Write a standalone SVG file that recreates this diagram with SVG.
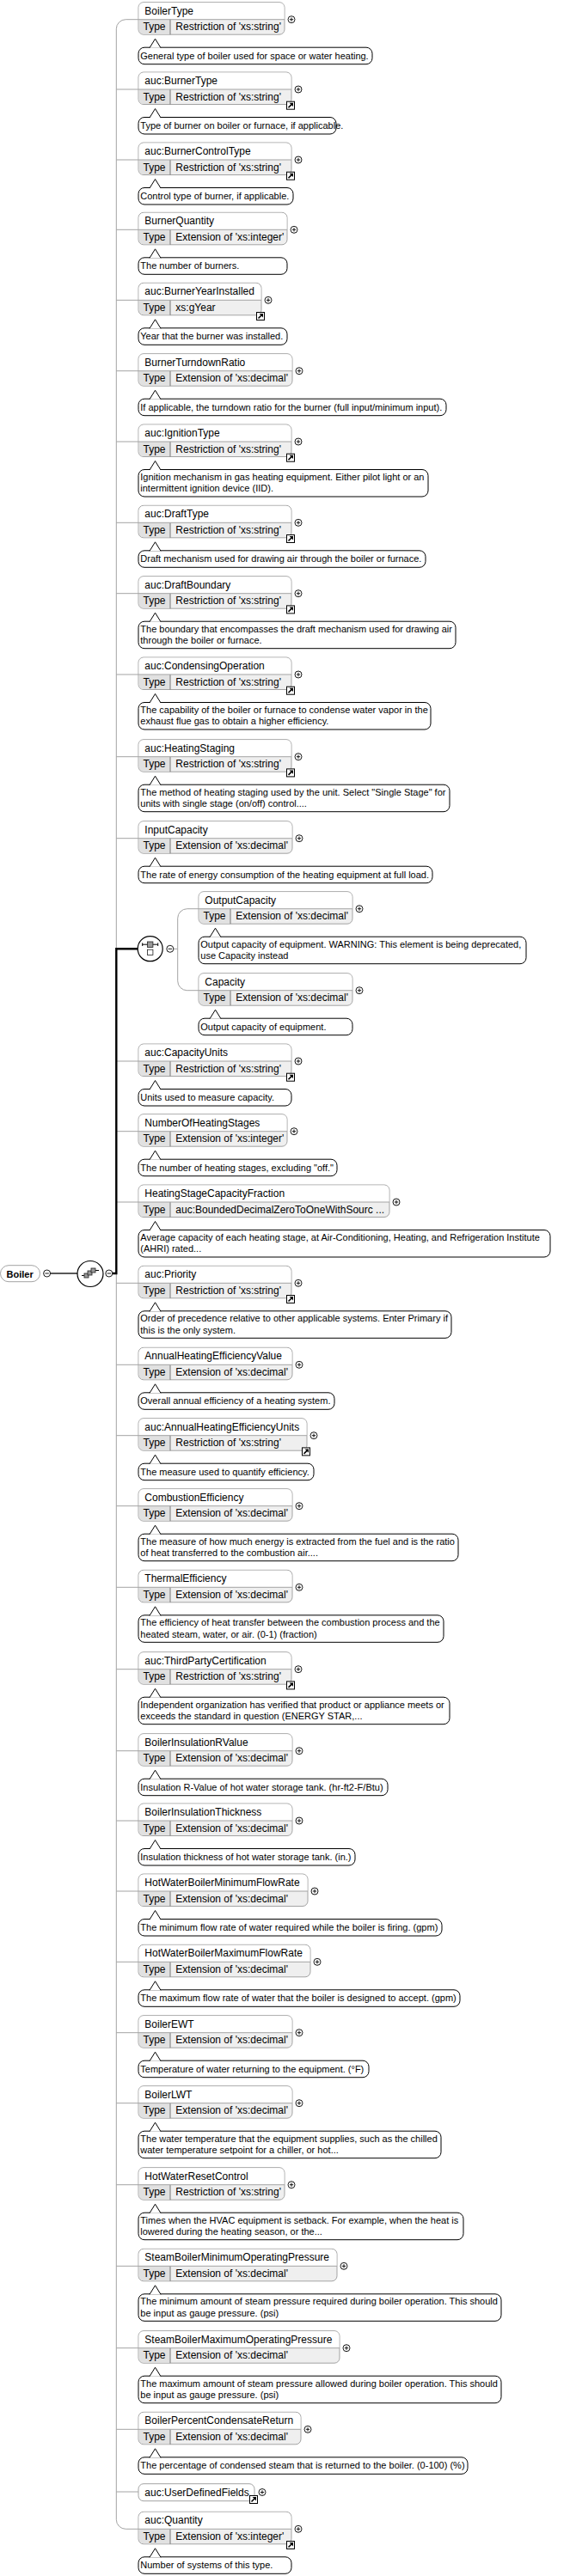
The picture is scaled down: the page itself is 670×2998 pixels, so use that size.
<svg xmlns="http://www.w3.org/2000/svg" width="670" height="2998" viewBox="0 0 670 2998">
<style>
.bx{fill:#efefef;stroke:#a3a3a3;stroke-width:1}
.hb{fill:#fff;stroke:#a3a3a3;stroke-width:1}
.hd{fill:#fff}
.dv{fill:none;stroke:#a3a3a3;stroke-width:1}
.co{fill:#fff;stroke:#000;stroke-width:1}
.hn,.tt{font-family:"Liberation Sans",Arial,sans-serif;font-size:12px;fill:#000}
.dc{font-family:"Liberation Sans",Arial,sans-serif;font-size:11px;fill:#000}
.rt{font-family:"Liberation Sans",Arial,sans-serif;font-size:11px;font-weight:bold;fill:#000}
.gl{fill:none;stroke:#a3a3a3;stroke-width:1}
</style>
<defs>
<g id="tc"><path d="M0.5 0H37V17H6A5.5 5.5 0 0 1 0.5 11.5Z" fill="#e1e1e1"/><path d="M37 0V17.5" stroke="#777" fill="none"/><text class="tt" x="5.5" y="12.5">Type</text></g>
<path id="pt" d="M13 33L19.5 22.5L26 33" fill="#fff" stroke="#000"/>
<g id="pl"><circle r="4" fill="#fff" stroke="#000" stroke-width="0.9"/><path d="M-2.2 0H2.2M0 -2.2V2.2" stroke="#000" stroke-width="0.9"/></g>
<g id="mi"><circle r="4" fill="#fff" stroke="#000" stroke-width="0.9"/><path d="M-2.2 0H2.2" stroke="#000" stroke-width="0.9"/></g>
<g id="lk"><rect x="0.5" y="0.5" width="9" height="9" fill="#fff" stroke="#000"/><path d="M2.5 7.5L6.3 3.7" stroke="#000" stroke-width="1.6"/><path d="M3.6 2H8V6.4Z" fill="#000"/></g>
</defs>

<g id="connectors">
<path class="gl" d="M161 22.7H146.3A11 11 0 0 0 135.3 33.7V2932.3A11 11 0 0 0 146.3 2943.3H161"/>
<path class="gl" d="M135.3 104H161M135.3 186H161M135.3 267.3H161M135.3 349.3H161M135.3 431.7H161M135.3 514H161M135.3 608.3H161M135.3 690.7H161M135.3 785H161M135.3 880.7H161M135.3 975.7H161M135.3 1235H161M135.3 1316.7H161M135.3 1399H161M135.3 1493.3H161M135.3 1588.3H161M135.3 1670.7H161M135.3 1752.7H161M135.3 1847.3H161M135.3 1942.7H161M135.3 2037.7H161M135.3 2119H161M135.3 2201H161M135.3 2283.3H161M135.3 2365.7H161M135.3 2447.7H161M135.3 2542.7H161M135.3 2637.3H161M135.3 2732.7H161M135.3 2827.3H161M135.3 2900H161"/>
<path class="gl" d="M231 1057.7H217.7A11 11 0 0 0 206.7 1068.7V1141.7A11 11 0 0 0 217.7 1152.7H231"/>
<path d="M201.5 1104.3H206.7" stroke="#a3a3a3" fill="none"/>
<path d="M130.7 1482H135.3V1104.2H160.2" stroke="#000" stroke-width="2.4" fill="none"/>
<path d="M58.5 1482H90.3" stroke="#222" stroke-width="1.3" fill="none"/>
<use href="#mi" x="54.6" y="1482"/>
<use href="#mi" x="126.8" y="1482"/>
<use href="#mi" x="197.8" y="1104.3"/>
</g>

<g id="Boiler"><rect class="hb" x="0.5" y="1472.7" width="46" height="19" rx="9.5" stroke="#999"/><text class="rt" x="7.5" y="1486.5">Boiler</text></g>

<g id="sequence" transform="translate(105 1482.5)">
<circle r="15" fill="#fff" stroke="#000" stroke-width="1.2"/>
<path d="M-10 2H-7M6 -4H10" stroke="#000" fill="none"/>
<rect x="-7" y="-0.5" width="5" height="5" fill="#999" stroke="#222" stroke-width="0.8"/>
<rect x="-3" y="-3.5" width="5" height="5" fill="#999" stroke="#222" stroke-width="0.8"/>
<rect x="1" y="-6.5" width="5" height="5" fill="#999" stroke="#222" stroke-width="0.8"/>
</g>

<g id="choice" transform="translate(174.7 1104.2)">
<circle r="14.5" fill="#fff" stroke="#000" stroke-width="1.2"/>
<path d="M-9 -5H9M-9 -6.8V-3.2M9 -6.8V-3.2" stroke="#000" fill="none"/>
<rect x="-3.2" y="-8.2" width="6.4" height="6.4" fill="#9a9a9a" stroke="#222" stroke-width="0.8"/>
<rect x="-3.2" y="1" width="6.4" height="6.4" fill="#fff" stroke="#222" stroke-width="0.8"/>
</g>

<g id="BoilerType" transform="translate(161 22.7)">
<rect class="bx" y="-20" width="170" height="37.5" rx="6"/>
<path class="hd" d="M0.5 0V-14A5.5 5.5 0 0 1 6 -19.5H164A5.5 5.5 0 0 1 169.5 -14V0Z"/>
<use href="#tc"/><path class="dv" d="M0 0H170"/>
<text class="hn" x="7.3" y="-6">BoilerType</text>
<text class="tt" x="43.3" y="12.5">Restriction of 'xs:string'</text>
<use href="#pl" x="178" y="0"/>
<rect class="co" y="32.5" width="272" height="19.5" rx="7"/><use href="#pt"/>
<text class="dc" x="2.3" y="46">General type of boiler used for space or water heating.</text>
</g>

<g id="BurnerType" transform="translate(161 104)">
<rect class="bx" y="-20" width="178" height="37.5" rx="6"/>
<path class="hd" d="M0.5 0V-14A5.5 5.5 0 0 1 6 -19.5H172A5.5 5.5 0 0 1 177.5 -14V0Z"/>
<use href="#tc"/><path class="dv" d="M0 0H178"/>
<text class="hn" x="7.3" y="-6">auc:BurnerType</text>
<text class="tt" x="43.3" y="12.5">Restriction of 'xs:string'</text>
<use href="#lk" x="172" y="13.7"/><use href="#pl" x="186" y="0"/>
<rect class="co" y="32.5" width="230" height="19.5" rx="7"/><use href="#pt"/>
<text class="dc" x="2.3" y="46">Type of burner on boiler or furnace, if applicable.</text>
</g>

<g id="BurnerControlType" transform="translate(161 186)">
<rect class="bx" y="-20" width="178" height="37.5" rx="6"/>
<path class="hd" d="M0.5 0V-14A5.5 5.5 0 0 1 6 -19.5H172A5.5 5.5 0 0 1 177.5 -14V0Z"/>
<use href="#tc"/><path class="dv" d="M0 0H178"/>
<text class="hn" x="7.3" y="-6">auc:BurnerControlType</text>
<text class="tt" x="43.3" y="12.5">Restriction of 'xs:string'</text>
<use href="#lk" x="172" y="13.7"/><use href="#pl" x="186" y="0"/>
<rect class="co" y="32.5" width="180" height="19.5" rx="7"/><use href="#pt"/>
<text class="dc" x="2.3" y="46">Control type of burner, if applicable.</text>
</g>

<g id="BurnerQuantity" transform="translate(161 267.3)">
<rect class="bx" y="-20" width="173" height="37.5" rx="6"/>
<path class="hd" d="M0.5 0V-14A5.5 5.5 0 0 1 6 -19.5H167A5.5 5.5 0 0 1 172.5 -14V0Z"/>
<use href="#tc"/><path class="dv" d="M0 0H173"/>
<text class="hn" x="7.3" y="-6">BurnerQuantity</text>
<text class="tt" x="43.3" y="12.5">Extension of 'xs:integer'</text>
<use href="#pl" x="181" y="0"/>
<rect class="co" y="32.5" width="173" height="19.5" rx="7"/><use href="#pt"/>
<text class="dc" x="2.3" y="46">The number of burners.</text>
</g>

<g id="BurnerYearInstalled" transform="translate(161 349.3)">
<rect class="bx" y="-20" width="143" height="37.5" rx="6"/>
<path class="hd" d="M0.5 0V-14A5.5 5.5 0 0 1 6 -19.5H137A5.5 5.5 0 0 1 142.5 -14V0Z"/>
<use href="#tc"/><path class="dv" d="M0 0H143"/>
<text class="hn" x="7.3" y="-6">auc:BurnerYearInstalled</text>
<text class="tt" x="43.3" y="12.5">xs:gYear</text>
<use href="#lk" x="137" y="13.7"/><use href="#pl" x="151" y="0"/>
<rect class="co" y="32.5" width="173" height="19.5" rx="7"/><use href="#pt"/>
<text class="dc" x="2.3" y="46">Year that the burner was installed.</text>
</g>

<g id="BurnerTurndownRatio" transform="translate(161 431.7)">
<rect class="bx" y="-20" width="179" height="37.5" rx="6"/>
<path class="hd" d="M0.5 0V-14A5.5 5.5 0 0 1 6 -19.5H173A5.5 5.5 0 0 1 178.5 -14V0Z"/>
<use href="#tc"/><path class="dv" d="M0 0H179"/>
<text class="hn" x="7.3" y="-6">BurnerTurndownRatio</text>
<text class="tt" x="43.3" y="12.5">Extension of 'xs:decimal'</text>
<use href="#pl" x="187" y="0"/>
<rect class="co" y="32.5" width="358" height="19.5" rx="7"/><use href="#pt"/>
<text class="dc" x="2.3" y="46">If applicable, the turndown ratio for the burner (full input/minimum input).</text>
</g>

<g id="IgnitionType" transform="translate(161 514)">
<rect class="bx" y="-20" width="178" height="37.5" rx="6"/>
<path class="hd" d="M0.5 0V-14A5.5 5.5 0 0 1 6 -19.5H172A5.5 5.5 0 0 1 177.5 -14V0Z"/>
<use href="#tc"/><path class="dv" d="M0 0H178"/>
<text class="hn" x="7.3" y="-6">auc:IgnitionType</text>
<text class="tt" x="43.3" y="12.5">Restriction of 'xs:string'</text>
<use href="#lk" x="172" y="13.7"/><use href="#pl" x="186" y="0"/>
<rect class="co" y="32.5" width="337" height="31.5" rx="7"/><use href="#pt"/>
<text class="dc" x="2.3" y="45">Ignition mechanism in gas heating equipment. Either pilot light or an</text>
<text class="dc" x="2.3" y="58.3">intermittent ignition device (IID).</text>
</g>

<g id="DraftType" transform="translate(161 608.3)">
<rect class="bx" y="-20" width="178" height="37.5" rx="6"/>
<path class="hd" d="M0.5 0V-14A5.5 5.5 0 0 1 6 -19.5H172A5.5 5.5 0 0 1 177.5 -14V0Z"/>
<use href="#tc"/><path class="dv" d="M0 0H178"/>
<text class="hn" x="7.3" y="-6">auc:DraftType</text>
<text class="tt" x="43.3" y="12.5">Restriction of 'xs:string'</text>
<use href="#lk" x="172" y="13.7"/><use href="#pl" x="186" y="0"/>
<rect class="co" y="32.5" width="334" height="19.5" rx="7"/><use href="#pt"/>
<text class="dc" x="2.3" y="46">Draft mechanism used for drawing air through the boiler or furnace.</text>
</g>

<g id="DraftBoundary" transform="translate(161 690.7)">
<rect class="bx" y="-20" width="178" height="37.5" rx="6"/>
<path class="hd" d="M0.5 0V-14A5.5 5.5 0 0 1 6 -19.5H172A5.5 5.5 0 0 1 177.5 -14V0Z"/>
<use href="#tc"/><path class="dv" d="M0 0H178"/>
<text class="hn" x="7.3" y="-6">auc:DraftBoundary</text>
<text class="tt" x="43.3" y="12.5">Restriction of 'xs:string'</text>
<use href="#lk" x="172" y="13.7"/><use href="#pl" x="186" y="0"/>
<rect class="co" y="32.5" width="369" height="31.5" rx="7"/><use href="#pt"/>
<text class="dc" x="2.3" y="45">The boundary that encompasses the draft mechanism used for drawing air</text>
<text class="dc" x="2.3" y="58.3">through the boiler or furnace.</text>
</g>

<g id="CondensingOperation" transform="translate(161 785)">
<rect class="bx" y="-20" width="178" height="37.5" rx="6"/>
<path class="hd" d="M0.5 0V-14A5.5 5.5 0 0 1 6 -19.5H172A5.5 5.5 0 0 1 177.5 -14V0Z"/>
<use href="#tc"/><path class="dv" d="M0 0H178"/>
<text class="hn" x="7.3" y="-6">auc:CondensingOperation</text>
<text class="tt" x="43.3" y="12.5">Restriction of 'xs:string'</text>
<use href="#lk" x="172" y="13.7"/><use href="#pl" x="186" y="0"/>
<rect class="co" y="32.5" width="340" height="31.5" rx="7"/><use href="#pt"/>
<text class="dc" x="2.3" y="45">The capability of the boiler or furnace to condense water vapor in the</text>
<text class="dc" x="2.3" y="58.3">exhaust flue gas to obtain a higher efficiency.</text>
</g>

<g id="HeatingStaging" transform="translate(161 880.7)">
<rect class="bx" y="-20" width="178" height="37.5" rx="6"/>
<path class="hd" d="M0.5 0V-14A5.5 5.5 0 0 1 6 -19.5H172A5.5 5.5 0 0 1 177.5 -14V0Z"/>
<use href="#tc"/><path class="dv" d="M0 0H178"/>
<text class="hn" x="7.3" y="-6">auc:HeatingStaging</text>
<text class="tt" x="43.3" y="12.5">Restriction of 'xs:string'</text>
<use href="#lk" x="172" y="13.7"/><use href="#pl" x="186" y="0"/>
<rect class="co" y="32.5" width="362" height="31.5" rx="7"/><use href="#pt"/>
<text class="dc" x="2.3" y="45">The method of heating staging used by the unit. Select "Single Stage" for</text>
<text class="dc" x="2.3" y="58.3">units with single stage (on/off) control....</text>
</g>

<g id="InputCapacity" transform="translate(161 975.7)">
<rect class="bx" y="-20" width="179" height="37.5" rx="6"/>
<path class="hd" d="M0.5 0V-14A5.5 5.5 0 0 1 6 -19.5H173A5.5 5.5 0 0 1 178.5 -14V0Z"/>
<use href="#tc"/><path class="dv" d="M0 0H179"/>
<text class="hn" x="7.3" y="-6">InputCapacity</text>
<text class="tt" x="43.3" y="12.5">Extension of 'xs:decimal'</text>
<use href="#pl" x="187" y="0"/>
<rect class="co" y="32.5" width="342" height="19.5" rx="7"/><use href="#pt"/>
<text class="dc" x="2.3" y="46">The rate of energy consumption of the heating equipment at full load.</text>
</g>

<g id="OutputCapacity" transform="translate(231 1057.7)">
<rect class="bx" y="-20" width="179" height="37.5" rx="6"/>
<path class="hd" d="M0.5 0V-14A5.5 5.5 0 0 1 6 -19.5H173A5.5 5.5 0 0 1 178.5 -14V0Z"/>
<use href="#tc"/><path class="dv" d="M0 0H179"/>
<text class="hn" x="7.3" y="-6">OutputCapacity</text>
<text class="tt" x="43.3" y="12.5">Extension of 'xs:decimal'</text>
<use href="#pl" x="187" y="0"/>
<rect class="co" y="32.5" width="381" height="31.5" rx="7"/><use href="#pt"/>
<text class="dc" x="2.3" y="45">Output capacity of equipment. WARNING: This element is being deprecated,</text>
<text class="dc" x="2.3" y="58.3">use Capacity instead</text>
</g>

<g id="Capacity" transform="translate(231 1152.7)">
<rect class="bx" y="-20" width="179" height="37.5" rx="6"/>
<path class="hd" d="M0.5 0V-14A5.5 5.5 0 0 1 6 -19.5H173A5.5 5.5 0 0 1 178.5 -14V0Z"/>
<use href="#tc"/><path class="dv" d="M0 0H179"/>
<text class="hn" x="7.3" y="-6">Capacity</text>
<text class="tt" x="43.3" y="12.5">Extension of 'xs:decimal'</text>
<use href="#pl" x="187" y="0"/>
<rect class="co" y="32.5" width="179" height="19.5" rx="7"/><use href="#pt"/>
<text class="dc" x="2.3" y="46">Output capacity of equipment.</text>
</g>

<g id="CapacityUnits" transform="translate(161 1235)">
<rect class="bx" y="-20" width="178" height="37.5" rx="6"/>
<path class="hd" d="M0.5 0V-14A5.5 5.5 0 0 1 6 -19.5H172A5.5 5.5 0 0 1 177.5 -14V0Z"/>
<use href="#tc"/><path class="dv" d="M0 0H178"/>
<text class="hn" x="7.3" y="-6">auc:CapacityUnits</text>
<text class="tt" x="43.3" y="12.5">Restriction of 'xs:string'</text>
<use href="#lk" x="172" y="13.7"/><use href="#pl" x="186" y="0"/>
<rect class="co" y="32.5" width="178" height="19.5" rx="7"/><use href="#pt"/>
<text class="dc" x="2.3" y="46">Units used to measure capacity.</text>
</g>

<g id="NumberOfHeatingStages" transform="translate(161 1316.7)">
<rect class="bx" y="-20" width="173" height="37.5" rx="6"/>
<path class="hd" d="M0.5 0V-14A5.5 5.5 0 0 1 6 -19.5H167A5.5 5.5 0 0 1 172.5 -14V0Z"/>
<use href="#tc"/><path class="dv" d="M0 0H173"/>
<text class="hn" x="7.3" y="-6">NumberOfHeatingStages</text>
<text class="tt" x="43.3" y="12.5">Extension of 'xs:integer'</text>
<use href="#pl" x="181" y="0"/>
<rect class="co" y="32.5" width="231" height="19.5" rx="7"/><use href="#pt"/>
<text class="dc" x="2.3" y="46">The number of heating stages, excluding "off."</text>
</g>

<g id="HeatingStageCapacityFraction" transform="translate(161 1399)">
<rect class="bx" y="-20" width="292" height="37.5" rx="6"/>
<path class="hd" d="M0.5 0V-14A5.5 5.5 0 0 1 6 -19.5H286A5.5 5.5 0 0 1 291.5 -14V0Z"/>
<use href="#tc"/><path class="dv" d="M0 0H292"/>
<text class="hn" x="7.3" y="-6">HeatingStageCapacityFraction</text>
<text class="tt" x="43.3" y="12.5">auc:BoundedDecimalZeroToOneWithSourc ...</text>
<use href="#pl" x="300" y="0"/>
<rect class="co" y="32.5" width="479" height="31.5" rx="7"/><use href="#pt"/>
<text class="dc" x="2.3" y="45">Average capacity of each heating stage, at Air-Conditioning, Heating, and Refrigeration Institute</text>
<text class="dc" x="2.3" y="58.3">(AHRI) rated...</text>
</g>

<g id="Priority" transform="translate(161 1493.3)">
<rect class="bx" y="-20" width="178" height="37.5" rx="6"/>
<path class="hd" d="M0.5 0V-14A5.5 5.5 0 0 1 6 -19.5H172A5.5 5.5 0 0 1 177.5 -14V0Z"/>
<use href="#tc"/><path class="dv" d="M0 0H178"/>
<text class="hn" x="7.3" y="-6">auc:Priority</text>
<text class="tt" x="43.3" y="12.5">Restriction of 'xs:string'</text>
<use href="#lk" x="172" y="13.7"/><use href="#pl" x="186" y="0"/>
<rect class="co" y="32.5" width="364" height="31.5" rx="7"/><use href="#pt"/>
<text class="dc" x="2.3" y="45">Order of precedence relative to other applicable systems. Enter Primary if</text>
<text class="dc" x="2.3" y="58.3">this is the only system.</text>
</g>

<g id="AnnualHeatingEfficiencyValue" transform="translate(161 1588.3)">
<rect class="bx" y="-20" width="179" height="37.5" rx="6"/>
<path class="hd" d="M0.5 0V-14A5.5 5.5 0 0 1 6 -19.5H173A5.5 5.5 0 0 1 178.5 -14V0Z"/>
<use href="#tc"/><path class="dv" d="M0 0H179"/>
<text class="hn" x="7.3" y="-6">AnnualHeatingEfficiencyValue</text>
<text class="tt" x="43.3" y="12.5">Extension of 'xs:decimal'</text>
<use href="#pl" x="187" y="0"/>
<rect class="co" y="32.5" width="228" height="19.5" rx="7"/><use href="#pt"/>
<text class="dc" x="2.3" y="46">Overall annual efficiency of a heating system.</text>
</g>

<g id="AnnualHeatingEfficiencyUnits" transform="translate(161 1670.7)">
<rect class="bx" y="-20" width="196" height="37.5" rx="6"/>
<path class="hd" d="M0.5 0V-14A5.5 5.5 0 0 1 6 -19.5H190A5.5 5.5 0 0 1 195.5 -14V0Z"/>
<use href="#tc"/><path class="dv" d="M0 0H196"/>
<text class="hn" x="7.3" y="-6">auc:AnnualHeatingEfficiencyUnits</text>
<text class="tt" x="43.3" y="12.5">Restriction of 'xs:string'</text>
<use href="#lk" x="190" y="13.7"/><use href="#pl" x="204" y="0"/>
<rect class="co" y="32.5" width="204" height="19.5" rx="7"/><use href="#pt"/>
<text class="dc" x="2.3" y="46">The measure used to quantify efficiency.</text>
</g>

<g id="CombustionEfficiency" transform="translate(161 1752.7)">
<rect class="bx" y="-20" width="179" height="37.5" rx="6"/>
<path class="hd" d="M0.5 0V-14A5.5 5.5 0 0 1 6 -19.5H173A5.5 5.5 0 0 1 178.5 -14V0Z"/>
<use href="#tc"/><path class="dv" d="M0 0H179"/>
<text class="hn" x="7.3" y="-6">CombustionEfficiency</text>
<text class="tt" x="43.3" y="12.5">Extension of 'xs:decimal'</text>
<use href="#pl" x="187" y="0"/>
<rect class="co" y="32.5" width="372" height="31.5" rx="7"/><use href="#pt"/>
<text class="dc" x="2.3" y="45">The measure of how much energy is extracted from the fuel and is the ratio</text>
<text class="dc" x="2.3" y="58.3">of heat transferred to the combustion air....</text>
</g>

<g id="ThermalEfficiency" transform="translate(161 1847.3)">
<rect class="bx" y="-20" width="179" height="37.5" rx="6"/>
<path class="hd" d="M0.5 0V-14A5.5 5.5 0 0 1 6 -19.5H173A5.5 5.5 0 0 1 178.5 -14V0Z"/>
<use href="#tc"/><path class="dv" d="M0 0H179"/>
<text class="hn" x="7.3" y="-6">ThermalEfficiency</text>
<text class="tt" x="43.3" y="12.5">Extension of 'xs:decimal'</text>
<use href="#pl" x="187" y="0"/>
<rect class="co" y="32.5" width="355" height="31.5" rx="7"/><use href="#pt"/>
<text class="dc" x="2.3" y="45">The efficiency of heat transfer between the combustion process and the</text>
<text class="dc" x="2.3" y="58.3">heated steam, water, or air. (0-1) (fraction)</text>
</g>

<g id="ThirdPartyCertification" transform="translate(161 1942.7)">
<rect class="bx" y="-20" width="178" height="37.5" rx="6"/>
<path class="hd" d="M0.5 0V-14A5.5 5.5 0 0 1 6 -19.5H172A5.5 5.5 0 0 1 177.5 -14V0Z"/>
<use href="#tc"/><path class="dv" d="M0 0H178"/>
<text class="hn" x="7.3" y="-6">auc:ThirdPartyCertification</text>
<text class="tt" x="43.3" y="12.5">Restriction of 'xs:string'</text>
<use href="#lk" x="172" y="13.7"/><use href="#pl" x="186" y="0"/>
<rect class="co" y="32.5" width="362" height="31.5" rx="7"/><use href="#pt"/>
<text class="dc" x="2.3" y="45">Independent organization has verified that product or appliance meets or</text>
<text class="dc" x="2.3" y="58.3">exceeds the standard in question (ENERGY STAR,...</text>
</g>

<g id="BoilerInsulationRValue" transform="translate(161 2037.7)">
<rect class="bx" y="-20" width="179" height="37.5" rx="6"/>
<path class="hd" d="M0.5 0V-14A5.5 5.5 0 0 1 6 -19.5H173A5.5 5.5 0 0 1 178.5 -14V0Z"/>
<use href="#tc"/><path class="dv" d="M0 0H179"/>
<text class="hn" x="7.3" y="-6">BoilerInsulationRValue</text>
<text class="tt" x="43.3" y="12.5">Extension of 'xs:decimal'</text>
<use href="#pl" x="187" y="0"/>
<rect class="co" y="32.5" width="290" height="19.5" rx="7"/><use href="#pt"/>
<text class="dc" x="2.3" y="46">Insulation R-Value of hot water storage tank. (hr-ft2-F/Btu)</text>
</g>

<g id="BoilerInsulationThickness" transform="translate(161 2119)">
<rect class="bx" y="-20" width="179" height="37.5" rx="6"/>
<path class="hd" d="M0.5 0V-14A5.5 5.5 0 0 1 6 -19.5H173A5.5 5.5 0 0 1 178.5 -14V0Z"/>
<use href="#tc"/><path class="dv" d="M0 0H179"/>
<text class="hn" x="7.3" y="-6">BoilerInsulationThickness</text>
<text class="tt" x="43.3" y="12.5">Extension of 'xs:decimal'</text>
<use href="#pl" x="187" y="0"/>
<rect class="co" y="32.5" width="252" height="19.5" rx="7"/><use href="#pt"/>
<text class="dc" x="2.3" y="46">Insulation thickness of hot water storage tank. (in.)</text>
</g>

<g id="HotWaterBoilerMinimumFlowRate" transform="translate(161 2201)">
<rect class="bx" y="-20" width="197" height="37.5" rx="6"/>
<path class="hd" d="M0.5 0V-14A5.5 5.5 0 0 1 6 -19.5H191A5.5 5.5 0 0 1 196.5 -14V0Z"/>
<use href="#tc"/><path class="dv" d="M0 0H197"/>
<text class="hn" x="7.3" y="-6">HotWaterBoilerMinimumFlowRate</text>
<text class="tt" x="43.3" y="12.5">Extension of 'xs:decimal'</text>
<use href="#pl" x="205" y="0"/>
<rect class="co" y="32.5" width="353" height="19.5" rx="7"/><use href="#pt"/>
<text class="dc" x="2.3" y="46">The minimum flow rate of water required while the boiler is firing. (gpm)</text>
</g>

<g id="HotWaterBoilerMaximumFlowRate" transform="translate(161 2283.3)">
<rect class="bx" y="-20" width="200" height="37.5" rx="6"/>
<path class="hd" d="M0.5 0V-14A5.5 5.5 0 0 1 6 -19.5H194A5.5 5.5 0 0 1 199.5 -14V0Z"/>
<use href="#tc"/><path class="dv" d="M0 0H200"/>
<text class="hn" x="7.3" y="-6">HotWaterBoilerMaximumFlowRate</text>
<text class="tt" x="43.3" y="12.5">Extension of 'xs:decimal'</text>
<use href="#pl" x="208" y="0"/>
<rect class="co" y="32.5" width="374" height="19.5" rx="7"/><use href="#pt"/>
<text class="dc" x="2.3" y="46">The maximum flow rate of water that the boiler is designed to accept. (gpm)</text>
</g>

<g id="BoilerEWT" transform="translate(161 2365.7)">
<rect class="bx" y="-20" width="179" height="37.5" rx="6"/>
<path class="hd" d="M0.5 0V-14A5.5 5.5 0 0 1 6 -19.5H173A5.5 5.5 0 0 1 178.5 -14V0Z"/>
<use href="#tc"/><path class="dv" d="M0 0H179"/>
<text class="hn" x="7.3" y="-6">BoilerEWT</text>
<text class="tt" x="43.3" y="12.5">Extension of 'xs:decimal'</text>
<use href="#pl" x="187" y="0"/>
<rect class="co" y="32.5" width="268" height="19.5" rx="7"/><use href="#pt"/>
<text class="dc" x="2.3" y="46">Temperature of water returning to the equipment. (°F)</text>
</g>

<g id="BoilerLWT" transform="translate(161 2447.7)">
<rect class="bx" y="-20" width="179" height="37.5" rx="6"/>
<path class="hd" d="M0.5 0V-14A5.5 5.5 0 0 1 6 -19.5H173A5.5 5.5 0 0 1 178.5 -14V0Z"/>
<use href="#tc"/><path class="dv" d="M0 0H179"/>
<text class="hn" x="7.3" y="-6">BoilerLWT</text>
<text class="tt" x="43.3" y="12.5">Extension of 'xs:decimal'</text>
<use href="#pl" x="187" y="0"/>
<rect class="co" y="32.5" width="352" height="31.5" rx="7"/><use href="#pt"/>
<text class="dc" x="2.3" y="45">The water temperature that the equipment supplies, such as the chilled</text>
<text class="dc" x="2.3" y="58.3">water temperature setpoint for a chiller, or hot...</text>
</g>

<g id="HotWaterResetControl" transform="translate(161 2542.7)">
<rect class="bx" y="-20" width="170" height="37.5" rx="6"/>
<path class="hd" d="M0.5 0V-14A5.5 5.5 0 0 1 6 -19.5H164A5.5 5.5 0 0 1 169.5 -14V0Z"/>
<use href="#tc"/><path class="dv" d="M0 0H170"/>
<text class="hn" x="7.3" y="-6">HotWaterResetControl</text>
<text class="tt" x="43.3" y="12.5">Restriction of 'xs:string'</text>
<use href="#pl" x="178" y="0"/>
<rect class="co" y="32.5" width="378" height="31.5" rx="7"/><use href="#pt"/>
<text class="dc" x="2.3" y="45">Times when the HVAC equipment is setback. For example, when the heat is</text>
<text class="dc" x="2.3" y="58.3">lowered during the heating season, or the...</text>
</g>

<g id="SteamBoilerMinimumOperatingPressure" transform="translate(161 2637.3)">
<rect class="bx" y="-20" width="231" height="37.5" rx="6"/>
<path class="hd" d="M0.5 0V-14A5.5 5.5 0 0 1 6 -19.5H225A5.5 5.5 0 0 1 230.5 -14V0Z"/>
<use href="#tc"/><path class="dv" d="M0 0H231"/>
<text class="hn" x="7.3" y="-6">SteamBoilerMinimumOperatingPressure</text>
<text class="tt" x="43.3" y="12.5">Extension of 'xs:decimal'</text>
<use href="#pl" x="239" y="0"/>
<rect class="co" y="32.5" width="422" height="31.5" rx="7"/><use href="#pt"/>
<text class="dc" x="2.3" y="45">The minimum amount of steam pressure required during boiler operation. This should</text>
<text class="dc" x="2.3" y="58.3">be input as gauge pressure. (psi)</text>
</g>

<g id="SteamBoilerMaximumOperatingPressure" transform="translate(161 2732.7)">
<rect class="bx" y="-20" width="234" height="37.5" rx="6"/>
<path class="hd" d="M0.5 0V-14A5.5 5.5 0 0 1 6 -19.5H228A5.5 5.5 0 0 1 233.5 -14V0Z"/>
<use href="#tc"/><path class="dv" d="M0 0H234"/>
<text class="hn" x="7.3" y="-6">SteamBoilerMaximumOperatingPressure</text>
<text class="tt" x="43.3" y="12.5">Extension of 'xs:decimal'</text>
<use href="#pl" x="242" y="0"/>
<rect class="co" y="32.5" width="422" height="31.5" rx="7"/><use href="#pt"/>
<text class="dc" x="2.3" y="45">The maximum amount of steam pressure allowed during boiler operation. This should</text>
<text class="dc" x="2.3" y="58.3">be input as gauge pressure. (psi)</text>
</g>

<g id="BoilerPercentCondensateReturn" transform="translate(161 2827.3)">
<rect class="bx" y="-20" width="189" height="37.5" rx="6"/>
<path class="hd" d="M0.5 0V-14A5.5 5.5 0 0 1 6 -19.5H183A5.5 5.5 0 0 1 188.5 -14V0Z"/>
<use href="#tc"/><path class="dv" d="M0 0H189"/>
<text class="hn" x="7.3" y="-6">BoilerPercentCondensateReturn</text>
<text class="tt" x="43.3" y="12.5">Extension of 'xs:decimal'</text>
<use href="#pl" x="197" y="0"/>
<rect class="co" y="32.5" width="383" height="19.5" rx="7"/><use href="#pt"/>
<text class="dc" x="2.3" y="46">The percentage of condensed steam that is returned to the boiler. (0-100) (%)</text>
</g>

<g id="UserDefinedFields" transform="translate(161 2900)">
<rect class="hb" y="-9.3" width="135" height="20" rx="6"/>
<text class="hn" x="7.3" y="4.5">auc:UserDefinedFields</text>
<use href="#lk" x="129" y="4"/><use href="#pl" x="144" y="0.5"/>
</g>

<g id="Quantity" transform="translate(161 2943.3)">
<rect class="bx" y="-20" width="178" height="37.5" rx="6"/>
<path class="hd" d="M0.5 0V-14A5.5 5.5 0 0 1 6 -19.5H172A5.5 5.5 0 0 1 177.5 -14V0Z"/>
<use href="#tc"/><path class="dv" d="M0 0H178"/>
<text class="hn" x="7.3" y="-6">auc:Quantity</text>
<text class="tt" x="43.3" y="12.5">Extension of 'xs:integer'</text>
<use href="#lk" x="172" y="13.7"/><use href="#pl" x="186" y="0"/>
<rect class="co" y="32.5" width="178" height="19.5" rx="7"/><use href="#pt"/>
<text class="dc" x="2.3" y="46">Number of systems of this type.</text>
</g>
</svg>
